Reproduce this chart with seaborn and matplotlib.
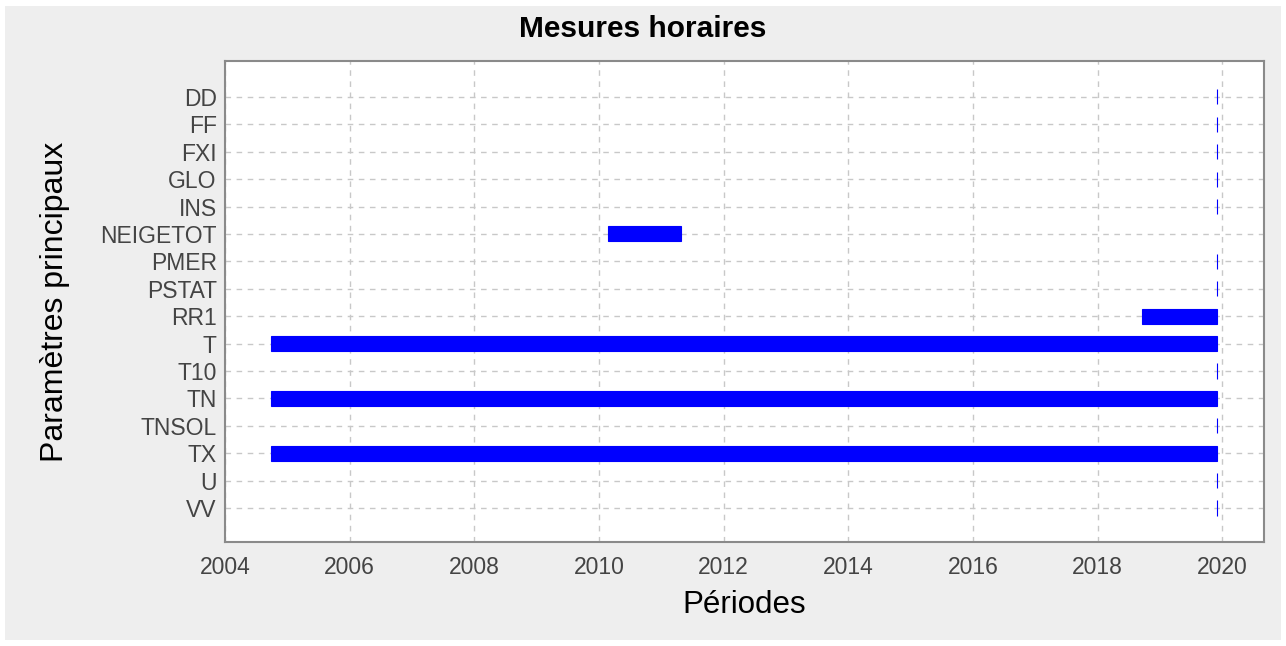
import matplotlib
matplotlib.use("Agg")
import matplotlib.pyplot as plt
import seaborn as sns
import pandas as pd
from matplotlib.patches import Rectangle

params = ["DD", "FF", "FXI", "GLO", "INS", "NEIGETOT", "PMER", "PSTAT",
          "RR1", "T", "T10", "TN", "TNSOL", "TX", "U", "VV"]
starts = [2019.91, 2019.91, 2019.91, 2019.91, 2019.91, 2010.15, 2019.91, 2019.91,
          2018.72, 2004.74, 2019.91, 2004.74, 2019.91, 2004.74, 2019.91, 2019.91]
ends = [2019.92, 2019.92, 2019.92, 2019.92, 2019.92, 2011.32, 2019.92, 2019.92,
        2019.92, 2019.92, 2019.92, 2019.92, 2019.92, 2019.92, 2019.92, 2019.92]
year_ticks = [2004, 2006, 2008, 2010, 2012, 2014, 2016, 2018, 2020]

df = pd.DataFrame({"param": params, "start": starts, "end": ends})
df["duree"] = df["end"] - df["start"]

sns.set_style("white")
plt.rcParams["font.family"] = ["Liberation Sans", "DejaVu Sans"]

fig = plt.figure(figsize=(12.86, 6.46), dpi=100, facecolor="white")
# grey panel behind the chart
fig.patches.append(Rectangle((5 / 1286, 6 / 646), 1276 / 1286, 634 / 646,
                             transform=fig.transFigure, facecolor="#eeeeee",
                             edgecolor="none", zorder=-10))
ax = fig.add_axes([225 / 1286, 1 - 542 / 646, 1039 / 1286, 481 / 646])
ax.set_facecolor("white")

pos = list(range(len(df)))
ax.barh(pos, df["duree"], left=df["start"], height=0.55, color="#0000ff",
        edgecolor="#0000ff", linewidth=0.8, zorder=3)

ax.set_xlim(2004, 2020.67)
ax.set_ylim(16.24, -1.31)
ax.set_xticks(year_ticks)
ax.set_yticks(pos)
ax.set_yticklabels(params)

ax.grid(True, color="#c8c8c8", linestyle=(0, (4, 4)), linewidth=1, zorder=1)
ax.set_axisbelow(True)
for s in ax.spines.values():
    s.set_color("#8a8a8a")
    s.set_linewidth(1.5)
ax.tick_params(axis="both", colors="#8a8a8a", labelcolor="#444444",
               labelsize=16.5, length=4, width=1.5)
ax.tick_params(axis="x", pad=6)
ax.tick_params(axis="y", length=0, pad=6)

fig.suptitle("Mesures horaires", x=0.5, y=1 - 29 / 646, va="center",
             fontsize=21.5, fontweight="bold", color="black")
ax.set_xlabel("Périodes", fontsize=22.5, color="black", labelpad=8)
ax.set_ylabel("Paramètres principaux", fontsize=23, color="black", labelpad=22)

fig.savefig("out.png", dpi=100, facecolor=fig.get_facecolor())
